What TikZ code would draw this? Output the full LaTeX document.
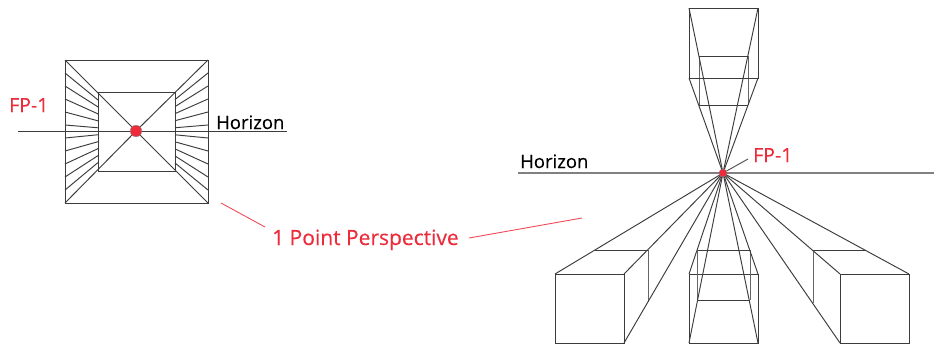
\documentclass[tikz,border=0pt]{standalone}
\usepackage{fontspec}
\setmainfont{Open Sans}
\newfontfamily\lblfont[FakeBold=0.25]{Open Sans}
\definecolor{lbl}{HTML}{ED2B3A}
\definecolor{ink}{HTML}{3C3C3C}
\tikzset{
  wire/.style={draw=ink,line width=0.95pt,line join=miter},
  backwire/.style={draw=black!60,line width=0.95pt,line join=miter},
  horizonline/.style={draw=ink,line width=1pt},
  greyhorizon/.style={draw=black!50,line width=1.5pt},
  redlead/.style={draw=lbl!85,line width=0.9pt},
  greylead/.style={draw=black!65,line width=1pt},
  fpdot/.style={circle,fill=lbl,draw=black!50,line width=0.3pt,inner sep=0pt},
  redtext/.style={text=lbl,inner sep=0pt,font=\lblfont\fontsize{19.5}{22}\selectfont},
  maintext/.style={text=lbl,inner sep=0pt,font=\lblfont\fontsize{21}{24}\selectfont},
  blacktext/.style={text=black,inner sep=0pt,font=\lblfont\fontsize{18.5}{22}\selectfont},
}
\begin{document}
\begin{tikzpicture}[x=1pt,y=-1pt]
\useasboundingbox (0,0) rectangle (934,345);
\fill[white] (0,0) rectangle (934,345);
% ---- left figure
\coordinate (lc) at (136,131);
\coordinate (lh1) at (18,131);
\coordinate (lh2) at (287,131);
\draw[horizonline] (lh1) -- (lh2);
\draw[wire] (65,60) rectangle (208,203);
\draw[wire] (98,92) rectangle (175,171);
\foreach \k in {1,...,10}{
  \pgfmathsetmacro{\yo}{60+13*\k}
  \pgfmathsetmacro{\yl}{\yo+(131-\yo)*0.465}
  \pgfmathsetmacro{\yr}{\yo+(131-\yo)*0.458}
  \draw[wire] (65,\yo) -- (98,\yl);
  \draw[wire] (208,\yo) -- (175,\yr);
}
\draw[wire] (65,60) -- (lc) -- (208,203);
\draw[wire] (208,60) -- (lc) -- (65,203);
\node[fpdot,minimum size=11.5pt] (ldot) at (lc) {};
\node[redtext,anchor=base west] (lfp) at (9,112) {FP-1};
\node[blacktext,anchor=base west] (lhz) at (216,129) {Horizon};
% ---- right figure
\coordinate (fp) at (723,173);
\coordinate (rh1) at (518,173);
\coordinate (rh2) at (934,173);
\draw[greyhorizon] (rh1) -- (rh2);
% top box
\draw[backwire] (699,56) -- (699,105) (748,56) -- (748,105);
\draw[wire] (699,56) -- (748,56) (699,105) -- (748,105);
\draw[wire] (689,8) rectangle (758,78);
\foreach \p in {(689,8),(758,8),(689,78),(758,78)}{
  \draw[wire] (fp) -- \p;
}
% left box
\draw[wire] (555,274) rectangle (624,343);
\draw[wire] (595,250) -- (648,250);
\draw[backwire] (648,250) -- (648,302);
\foreach \p in {(555,274),(624,274),(624,343)}{
  \draw[wire] (fp) -- \p;
}
% middle box
\draw[wire] (689,343) -- (689,274) -- (758,274) -- (758,343) -- cycle;
\draw[wire] (697,250) -- (750,250) (697,300) -- (750,300);
\draw[backwire] (697,250) -- (697,300) (750,250) -- (750,300);
\foreach \p in {(689,274),(689,343),(758,274),(758,343)}{
  \draw[wire] (fp) -- \p;
}
% right box
\draw[wire] (840,274) rectangle (909,343);
\draw[wire] (866,250) -- (813,250);
\draw[backwire] (813,250) -- (813,303);
\foreach \p in {(909,274),(840,274),(840,343)}{
  \draw[wire] (fp) -- \p;
}
\node[fpdot,minimum size=8pt] (rdot) at (fp) {};
\coordinate (leadend) at (748,159);
\draw[greylead] (rdot) -- (leadend);
\node[redtext,anchor=base west] (rfp) at (753,162) {FP-1};
\node[blacktext,anchor=base west] (rhz) at (520,168) {Horizon};
% ---- shared label
\node[maintext,anchor=base west] (main) at (272,245) {1 Point Perspective};
\coordinate (a1) at (221,203);
\coordinate (a2) at (265,227);
\coordinate (b1) at (469,238);
\coordinate (b2) at (582,218);
\draw[redlead] (a1) -- (a2);
\draw[redlead] (b1) -- (b2);
\end{tikzpicture}
\end{document}
